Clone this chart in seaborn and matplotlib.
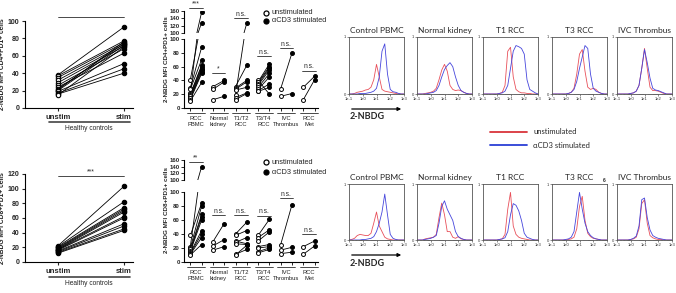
import numpy as np
import pandas as pd
import matplotlib
matplotlib.use("Agg")
import matplotlib.pyplot as plt
import matplotlib.transforms as mtransforms
from matplotlib.lines import Line2D
from matplotlib.patches import FancyArrowPatch
import seaborn as sns

# ---------------- data ----------------
# healthy controls, paired unstim / stim
hc_cd4_unstim = [38, 37, 35, 32, 29, 26, 24, 22, 21, 20, 19, 17, 16, 15]
hc_cd4_stim = [93, 77, 75, 73, 71, 68, 63, 74, 76, 72, 51, 45, 40, 70]
hc_cd8_unstim = [22, 21, 20, 19, 18, 17, 17, 16, 15, 14, 13, 12]
hc_cd8_stim = [103, 82, 74, 72, 70, 68, 62, 60, 52, 49, 45, 43]

groups = ["RCC\nPBMC", "Normal\nkidney", "T1/T2\nRCC", "T3/T4\nRCC", "IVC\nThrombus", "RCC\nMet"]

cd4_unstim = [
    [22, 41, 29, 27, 20, 19, 17, 15, 14, 12, 10],
    [31, 27, 12],
    [19, 31, 29, 27, 26, 15, 12],
    [40, 38, 37, 35, 33, 30, 27, 25, 24],
    [28, 17],
    [30, 12],
]
cd4_stim = [
    [157, 128, 88, 70, 62, 60, 57, 55, 52, 50, 37],
    [40, 38, 17],
    [127, 62, 40, 38, 30, 22, 21],
    [20, 64, 60, 58, 55, 50, 45, 35, 30],
    [80, 21],
    [46, 41],
]
cd4_sig = ["***", "*", "n.s.", "n.s.", "n.s.", "n.s."]

cd8_unstim = [
    [22, 38, 20, 18, 16, 15, 13, 12, 11, 10],
    [29, 23, 17],
    [40, 38, 30, 28, 26, 11, 10],
    [38, 35, 30, 22, 20, 15, 13],
    [25, 17, 12],
    [22, 11],
]
cd8_stim = [
    [140, 84, 80, 68, 65, 60, 45, 40, 35, 25],
    [55, 32, 22],
    [57, 45, 26, 35, 25, 18, 24],
    [61, 46, 43, 25, 22, 20, 18],
    [82, 21, 14],
    [30, 23],
]
cd8_sig = ["**", "n.s.", "n.s.", "n.s.", "n.s.", "n.s."]

# flow histograms: log10 of 2-NBDG intensity, normalised counts
hist_x = [-1.0, -0.8, -0.6, -0.4, -0.2, 0.0, 0.2, 0.4, 0.6, 0.8, 1.0,
          1.2, 1.4, 1.6, 1.8, 2.0, 2.2, 2.4, 2.6, 2.8, 3.0]
hist_titles = ["Control PBMC", "Normal kidney", "T1 RCC", "T3 RCC", "IVC Thrombus"]

top_red = [
    [0, 0, 0.01, 0.03, 0.04, 0.05, 0.07, 0.08, 0.12, 0.25, 0.52, 0.30, 0.08, 0.05, 0.04, 0.03, 0.02, 0.01, 0, 0, 0],
    [0, 0, 0, 0.01, 0.02, 0.03, 0.05, 0.10, 0.25, 0.42, 0.52, 0.40, 0.15, 0.08, 0.06, 0.07, 0.06, 0.03, 0.01, 0, 0],
    [0, 0, 0, 0, 0, 0, 0.01, 0.03, 0.15, 0.75, 0.82, 0.30, 0.08, 0.04, 0.02, 0.02, 0.01, 0.01, 0, 0, 0],
    [0, 0, 0, 0, 0, 0, 0.01, 0.03, 0.10, 0.35, 0.70, 0.78, 0.40, 0.12, 0.08, 0.10, 0.08, 0.03, 0.01, 0, 0],
    [0, 0, 0, 0, 0, 0.01, 0.02, 0.05, 0.15, 0.45, 0.80, 0.45, 0.12, 0.06, 0.06, 0.05, 0.03, 0.01, 0, 0, 0],
]
top_blue = [
    [0, 0, 0, 0, 0.01, 0.01, 0.01, 0.02, 0.03, 0.05, 0.10, 0.30, 0.75, 0.88, 0.35, 0.08, 0.04, 0.03, 0.01, 0, 0],
    [0, 0, 0, 0, 0.01, 0.02, 0.03, 0.06, 0.15, 0.30, 0.43, 0.50, 0.55, 0.48, 0.30, 0.15, 0.06, 0.03, 0.01, 0, 0],
    [0, 0, 0, 0, 0, 0, 0.01, 0.02, 0.05, 0.15, 0.45, 0.75, 0.85, 0.83, 0.80, 0.70, 0.25, 0.08, 0.05, 0.02, 0],
    [0, 0, 0, 0, 0, 0, 0.01, 0.03, 0.08, 0.22, 0.45, 0.65, 0.85, 0.80, 0.35, 0.10, 0.05, 0.03, 0.01, 0, 0],
    [0, 0, 0, 0, 0, 0.01, 0.02, 0.05, 0.15, 0.45, 0.78, 0.55, 0.28, 0.10, 0.07, 0.06, 0.04, 0.02, 0, 0, 0],
]
bot_red = [
    [0, 0.01, 0.03, 0.08, 0.10, 0.09, 0.08, 0.08, 0.12, 0.30, 0.50, 0.25, 0.15, 0.05, 0.02, 0.01, 0, 0, 0, 0, 0],
    [0, 0, 0, 0.02, 0.03, 0.04, 0.05, 0.10, 0.40, 0.66, 0.45, 0.15, 0.15, 0.05, 0.03, 0.06, 0.02, 0.01, 0, 0, 0],
    [0, 0, 0, 0, 0, 0, 0.01, 0.02, 0.10, 0.55, 0.85, 0.25, 0.10, 0.05, 0.03, 0.02, 0.01, 0, 0, 0, 0],
    [0, 0, 0, 0, 0, 0, 0.01, 0.02, 0.05, 0.20, 0.60, 0.78, 0.35, 0.12, 0.06, 0.03, 0.02, 0.01, 0, 0, 0],
    [0, 0, 0, 0, 0, 0.01, 0.02, 0.05, 0.20, 0.65, 0.72, 0.30, 0.08, 0.04, 0.02, 0.01, 0.01, 0, 0, 0, 0],
]
bot_blue = [
    [0, 0, 0, 0, 0, 0.01, 0.01, 0.02, 0.03, 0.06, 0.15, 0.30, 0.50, 0.82, 0.45, 0.10, 0.03, 0.01, 0, 0, 0],
    [0, 0, 0, 0.01, 0.02, 0.03, 0.05, 0.08, 0.30, 0.60, 0.70, 0.55, 0.45, 0.35, 0.15, 0.06, 0.03, 0.01, 0, 0, 0],
    [0, 0, 0, 0, 0, 0, 0.01, 0.02, 0.04, 0.15, 0.45, 0.65, 0.62, 0.52, 0.35, 0.12, 0.05, 0.03, 0.01, 0, 0],
    [0, 0, 0, 0, 0, 0.01, 0.02, 0.05, 0.15, 0.50, 0.85, 0.55, 0.30, 0.15, 0.08, 0.04, 0.02, 0.01, 0, 0, 0],
    [0, 0, 0, 0, 0, 0.01, 0.03, 0.07, 0.25, 0.72, 0.75, 0.40, 0.18, 0.08, 0.05, 0.03, 0.02, 0.01, 0, 0, 0],
]

# ---------------- style ----------------
sns.set_theme(style="ticks")
plt.rcParams["font.family"] = ["Liberation Sans", "DejaVu Sans"]
plt.rcParams["axes.linewidth"] = 0.8
plt.rcParams["axes.edgecolor"] = "black"

W, H = 676, 293
fig = plt.figure(figsize=(W / 100, H / 100), dpi=100)


def box(x0, y0, x1, y1):
    # pixel box (top-left origin) -> figure fraction rect
    return [x0 / W, 1 - y1 / H, (x1 - x0) / W, (y1 - y0) / H]


def fx(x):
    return x / W


def fy(y):
    return 1 - y / H


def panel_a(top, bottom, ymax, step, unstim, stim, ylabel, sig_y, open_unstim):
    ax = fig.add_axes(box(25, top, 133, bottom))
    n = len(unstim)
    df = pd.DataFrame({"pair": list(range(n)) * 2,
                       "cond": [0] * n + [1] * n,
                       "val": unstim + stim})
    sns.lineplot(data=df, x="cond", y="val", units="pair", estimator=None,
                 color="black", lw=0.6, ax=ax, legend=False)
    sns.scatterplot(data=df[df.cond == 0], x="cond", y="val", s=10,
                    color="white" if open_unstim else "black", edgecolor="black",
                    linewidth=0.8, ax=ax, zorder=3, legend=False)
    sns.scatterplot(data=df[df.cond == 1], x="cond", y="val", s=10, color="black",
                    edgecolor="black", linewidth=0.8, ax=ax, zorder=3, legend=False)
    ax.set_xlim(-0.5, 1.14)
    ax.set_ylim(0, ymax)
    ax.set_yticks(np.arange(0, ymax + 1, step))
    ax.set_xticks([0, 1])
    ax.set_xticklabels(["unstim", "stim"], fontsize=5.5, fontweight="bold")
    ax.tick_params(axis="y", labelsize=5, length=2.5, width=0.8, pad=1.5)
    ax.tick_params(axis="x", length=2.5, width=0.8, pad=2)
    for t in ax.get_yticklabels():
        t.set_fontweight("bold")
    ax.set_xlabel("")
    ax.set_ylabel(ylabel, fontsize=4.8, fontweight="bold")
    ax.yaxis.set_label_coords(-0.172, 0.5)
    sns.despine(ax=ax)
    # significance bar
    ax.plot([0, 1], [sig_y, sig_y], color="black", lw=0.5, clip_on=False)
    ax.annotate("***", (0.5, sig_y), xytext=(0, 0.5), textcoords="offset points",
                ha="center", va="bottom", fontsize=5)
    # group bracket
    tr = mtransforms.blended_transform_factory(ax.transData, ax.transAxes)
    ax.plot([-0.14, 1.09], [-0.165, -0.165], color="#444444", lw=1.2,
            transform=tr, clip_on=False)
    ax.text(0.47, -0.24, "Healthy controls", transform=tr, ha="center",
            va="center", fontsize=4.8)


def sig_mark(ax, g, y, label):
    ax.plot([g - 0.3, g + 0.3], [y, y], color="black", lw=0.5, clip_on=False)
    ax.annotate(label, (g, y), xytext=(0, 0.3), textcoords="offset points",
                ha="center", va="bottom", fontsize=4.8, annotation_clip=False)


def panel_b(y_up, y_lo, unstim, stim, sigs, sig_y, ylabel, label_y, leg_y):
    up = fig.add_axes(box(184, y_up[0], 318, y_up[1]))
    lo = fig.add_axes(box(184, y_lo[0], 318, y_lo[1]))
    rows = []
    for g, (u, s) in enumerate(zip(unstim, stim)):
        for k, (a, b) in enumerate(zip(u, s)):
            rows.append((f"{g}-{k}", g - 0.25, a, "unstim"))
            rows.append((f"{g}-{k}", g + 0.25, b, "stim"))
    df = pd.DataFrame(rows, columns=["pair", "x", "val", "cond"])
    for ax in (up, lo):
        sns.lineplot(data=df, x="x", y="val", units="pair", estimator=None,
                     color="black", lw=0.6, ax=ax, legend=False)
        sns.scatterplot(data=df[df.cond == "unstim"], x="x", y="val", s=8,
                        color="white", edgecolor="black", linewidth=0.7, ax=ax,
                        zorder=3, legend=False)
        sns.scatterplot(data=df[df.cond == "stim"], x="x", y="val", s=8,
                        color="black", edgecolor="black", linewidth=0.7, ax=ax,
                        zorder=3, legend=False)
        ax.set_xlim(-0.53, 5.4)
        ax.set_xlabel("")
        ax.set_ylabel("")
        ax.tick_params(axis="y", labelsize=4.3, length=2, width=0.7, pad=1)
        ax.spines[["top", "right"]].set_visible(False)
    up.set_xticks([])
    up.spines["bottom"].set_visible(False)
    # ticks under every point column, no labels
    lo.set_xticks([g + d for g in range(len(groups)) for d in (-0.25, 0.25)])
    lo.set_xticklabels([])
    lo.tick_params(axis="x", length=2, width=0.7)
    up.set_ylim(100, 160)
    up.set_yticks([100, 120, 140, 160])
    lo.set_ylim(0, 100)
    lo.set_yticks(range(0, 101, 20))
    for ax in (up, lo):
        for t in ax.get_yticklabels():
            t.set_fontweight("bold")
    tr = mtransforms.blended_transform_factory(lo.transData, lo.transAxes)
    for g, lab in enumerate(groups):
        lo.plot([g - 0.4, g + 0.4], [-0.075, -0.075], color="black", lw=0.5,
                transform=tr, clip_on=False)
        lo.text(g, -0.11, lab, transform=tr, ha="center", va="top",
                fontsize=4.2, linespacing=1.35, color="#222222")
    for g, (lab, (which, y)) in enumerate(zip(sigs, sig_y)):
        sig_mark(up if which == "up" else lo, g, y, lab)
    fig.text(fx(167), fy(label_y), ylabel, rotation=90, ha="center",
             va="center", fontsize=4.5, fontweight="bold")
    # legend
    for yy, face, lab in ((leg_y[0], "white", "unstimulated"),
                          (leg_y[1], "black", "\u03b1CD3 stimulated")):
        fig.add_artist(Line2D([fx(266)], [fy(yy)], marker="o", markersize=3.6,
                              markerfacecolor=face, markeredgecolor="black",
                              markeredgewidth=0.9, transform=fig.transFigure))
        fig.text(fx(272), fy(yy), lab, ha="left", va="center", fontsize=5.3)


red = "#e8505a"
blue = "#4646dc"
hist_left = [349, 417, 483, 552, 617]
log_minor = [d + np.log10(m) for d in range(-1, 3) for m in range(2, 10)]


def hist_row(top, bottom, reds, blues, arrow_y):
    for x0, title, r, b in zip(hist_left, hist_titles, reds, blues):
        ax = fig.add_axes(box(x0, top, x0 + 55, bottom))
        sns.lineplot(x=hist_x, y=r, color=red, lw=0.6, ax=ax)
        sns.lineplot(x=hist_x, y=b, color=blue, lw=0.6, ax=ax)
        ax.set_xlim(-1, 3)
        ax.set_ylim(0, 1)
        ax.set_xticks([-1, 0, 1, 2, 3])
        ax.set_xticklabels(["1e-1", "1e0", "1e1", "1e2", "1e3"])
        ax.set_xticks(log_minor, minor=True)
        ax.set_yticks([0, 1])
        ax.tick_params(labelsize=3, length=1.5, width=0.4, pad=0.8, colors="#333333")
        ax.tick_params(which="minor", length=1, width=0.3)
        for sp in ax.spines.values():
            sp.set_linewidth(0.6)
            sp.set_color("#555555")
        ax.set_title(title, fontsize=6, pad=3, family=["Lato", "DejaVu Sans"])
    fig.add_artist(FancyArrowPatch((fx(349), fy(arrow_y)), (fx(404), fy(arrow_y)),
                                   transform=fig.transFigure, arrowstyle="-|>",
                                   mutation_scale=5, lw=0.9, color="black"))
    fig.text(fx(350), fy(arrow_y + 8), "2-NBDG", ha="left", va="center",
             fontsize=6.5, fontweight="bold", family=["Lato", "DejaVu Sans"])


# ---------------- panels ----------------
panel_a(21, 108, 100, 20, hc_cd4_unstim, hc_cd4_stim,
        "2-NBDG MFI CD4+PD1+ cells", 104.6, True)
panel_a(174, 262, 120, 20, hc_cd8_unstim, hc_cd8_stim,
        "2-NBDG MFI CD8+PD1+ cells", 117, False)

panel_b((11, 33), (39, 108), cd4_unstim, cd4_stim, cd4_sig,
        [("up", 169), ("lo", 51), ("up", 141), ("lo", 75), ("lo", 87), ("lo", 54)],
        "2-NBDG MFI CD4+PD1+ cells", 59, (13, 21))
panel_b((160, 180), (192, 262), cd8_unstim, cd8_stim, cd8_sig,
        [("up", 154), ("lo", 67), ("lo", 67), ("lo", 66), ("lo", 91), ("lo", 40)],
        "2-NBDG MFI CD8+PD1+ cells", 210, (162, 172))

hist_row(37, 94, top_red, top_blue, 109)
hist_row(184, 240, bot_red, bot_blue, 255)
fig.text(fx(604), fy(181), "6", fontsize=3.5, fontweight="bold", ha="center", va="center")

# histogram legend
for yy, col, lab in ((132, "#d9343a", "unstimulated"), (145, "#2b3fd6", "\u03b1CD3 stimulated")):
    fig.add_artist(Line2D([fx(490), fx(527)], [fy(yy), fy(yy)], color=col, lw=1.3,
                          transform=fig.transFigure))
    fig.text(fx(533), fy(yy), lab, ha="left", va="center", fontsize=5.5,
             family=["Lato", "DejaVu Sans"])

fig.savefig("out.png", dpi=100)
